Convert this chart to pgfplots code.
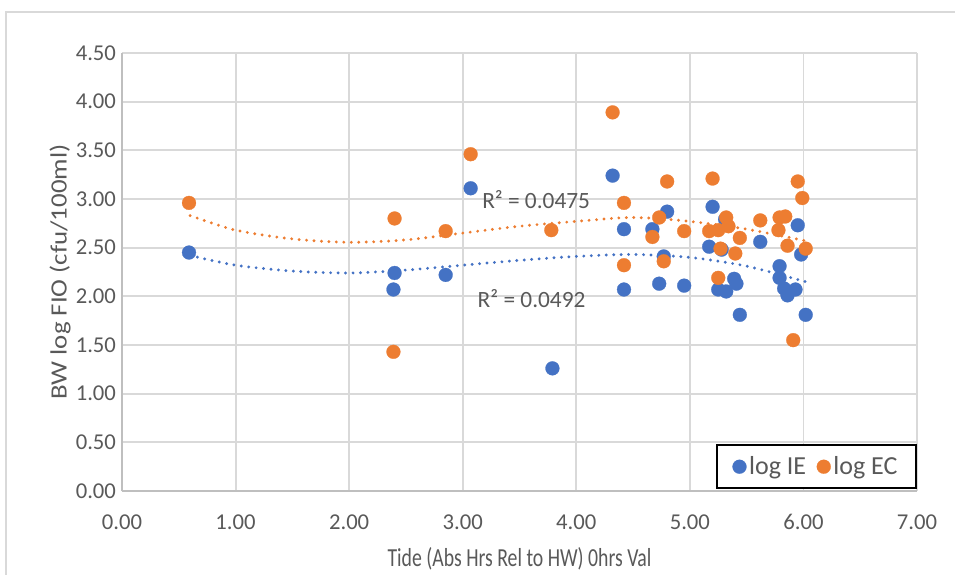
\documentclass[border=0pt]{standalone}
\usepackage{pgfplots}
\pgfplotsset{compat=1.18}
\usepackage{fontspec}
\setmainfont{Carlito}
\definecolor{ieblue}{HTML}{4472C4}
\definecolor{ecorange}{HTML}{ED7D31}
\definecolor{txtgray}{HTML}{595959}
\definecolor{gridgray}{HTML}{D9D9D9}
\definecolor{axisgray}{HTML}{BFBFBF}
\begin{document}
\begin{tikzpicture}[x=1pt,y=1pt]
\path[use as bounding box] (-91.5pt,-62.25pt) rectangle (624.75pt,368.25pt);
\draw[gridgray, line width=1.2pt] (-87pt,-70pt) -- (-87pt,359.25pt) -- (640pt,359.25pt);
\begin{axis}[
  at={(0pt,0pt)}, anchor=south west,
  width=596.25pt, height=328.5pt, scale only axis,
  xmin=0, xmax=7, ymin=0, ymax=4.5,
  xtick={0,1,...,7}, ytick={0,0.5,...,4.5},
  grid=major,
  major grid style={draw=gridgray, line width=1.4pt},
  axis lines=left,
  axis line style={-, draw=axisgray, line width=1.4pt},
  major tick length=0pt,
  tick style={draw=none},
  /pgf/number format/assume math mode=true,
  /pgf/number format/fixed,
  /pgf/number format/fixed zerofill,
  /pgf/number format/precision=2,
  ticklabel style={font=\fontsize{17}{19}\selectfont, text=txtgray},
  xticklabel style={yshift=-14pt},
  yticklabel style={xshift=-1pt},
  xlabel={\scalebox{0.76}[1]{Tide (Abs Hrs Rel to HW) 0hrs Val}},
  ylabel={\scalebox{1.15}[1]{BW log FIO (cfu/100ml)}},
  xlabel style={font=\fontsize{19.5}{21}\selectfont, text=txtgray, yshift=-6pt},
  ylabel style={font=\fontsize{17.5}{19}\selectfont, text=txtgray, yshift=-3pt},
  legend columns=2,
  legend style={at={(rel axis cs:1,0)}, anchor=south east, yshift=1.5pt,
    draw=black, line width=1.4pt, fill=white,
    font=\fontsize{19.5}{21}\selectfont, text=txtgray,
    inner xsep=12pt, inner ysep=6.5pt,
    /tikz/every even column/.append style={column sep=6pt}},
  legend cell align=left,
]
% trendlines (poly order 3)
\addplot[forget plot, ecorange, line width=2.4pt, line cap=round, dash pattern=on 0pt off 5.6pt, smooth] coordinates {
(0.60,2.83) (1.00,2.68) (1.50,2.59) (2.00,2.555) (2.50,2.58) (3.00,2.65) (3.50,2.72) (4.00,2.77) (4.50,2.81) (5.00,2.77) (5.50,2.69) (6.02,2.57)};
\addplot[forget plot, ieblue, line width=2.4pt, line cap=round, dash pattern=on 0pt off 5.6pt, smooth] coordinates {
(0.60,2.42) (1.00,2.32) (1.50,2.26) (2.00,2.24) (2.50,2.27) (3.00,2.32) (3.50,2.37) (4.00,2.41) (4.50,2.43) (5.00,2.40) (5.50,2.31) (6.02,2.15)};
% log IE
\addplot[only marks, mark=*, mark size=5.2pt, mark options={fill=ieblue, draw=ieblue, line width=0.2pt}] coordinates {
(0.59,2.45) (2.40,2.24) (2.39,2.07) (2.85,2.22) (3.07,3.11) (3.79,1.26)
(4.32,3.24) (4.42,2.69) (4.42,2.07) (4.67,2.69) (4.80,2.87) (4.77,2.41)
(4.73,2.13) (4.95,2.11) (5.20,2.92) (5.17,2.51) (5.31,2.79) (5.28,2.48)
(5.25,2.07) (5.32,2.05) (5.39,2.18) (5.41,2.13) (5.44,1.81) (5.62,2.56)
(5.79,2.31) (5.79,2.19) (5.83,2.08) (5.86,2.01) (5.93,2.07) (5.95,2.73)
(5.98,2.43) (6.02,1.81)};
\addlegendentry{log IE}
% log EC
\addplot[only marks, mark=*, mark size=5.2pt, mark options={fill=ecorange, draw=ecorange, line width=0.2pt}] coordinates {
(0.59,2.96) (2.40,2.80) (2.39,1.43) (2.85,2.67) (3.07,3.46) (3.78,2.68)
(4.32,3.89) (4.42,2.96) (4.42,2.32) (4.67,2.61) (4.73,2.81) (4.80,3.18)
(4.77,2.36) (4.95,2.67) (5.20,3.21) (5.17,2.67) (5.25,2.68) (5.32,2.81)
(5.34,2.72) (5.27,2.49) (5.44,2.60) (5.40,2.44) (5.25,2.19) (5.62,2.78)
(5.79,2.81) (5.84,2.82) (5.78,2.68) (5.86,2.52) (5.95,3.18) (5.99,3.01)
(6.02,2.49) (5.91,1.55)};
\addlegendentry{log EC}
\node[anchor=west, text=txtgray, font=\fontsize{17.5}{19}\selectfont, inner sep=0pt] at (axis cs:3.17,2.99) {R² = 0.0475};
\node[anchor=west, text=txtgray, font=\fontsize{17.5}{19}\selectfont, inner sep=0pt] at (axis cs:3.13,1.98) {R² = 0.0492};
\end{axis}
\end{tikzpicture}
\end{document}
